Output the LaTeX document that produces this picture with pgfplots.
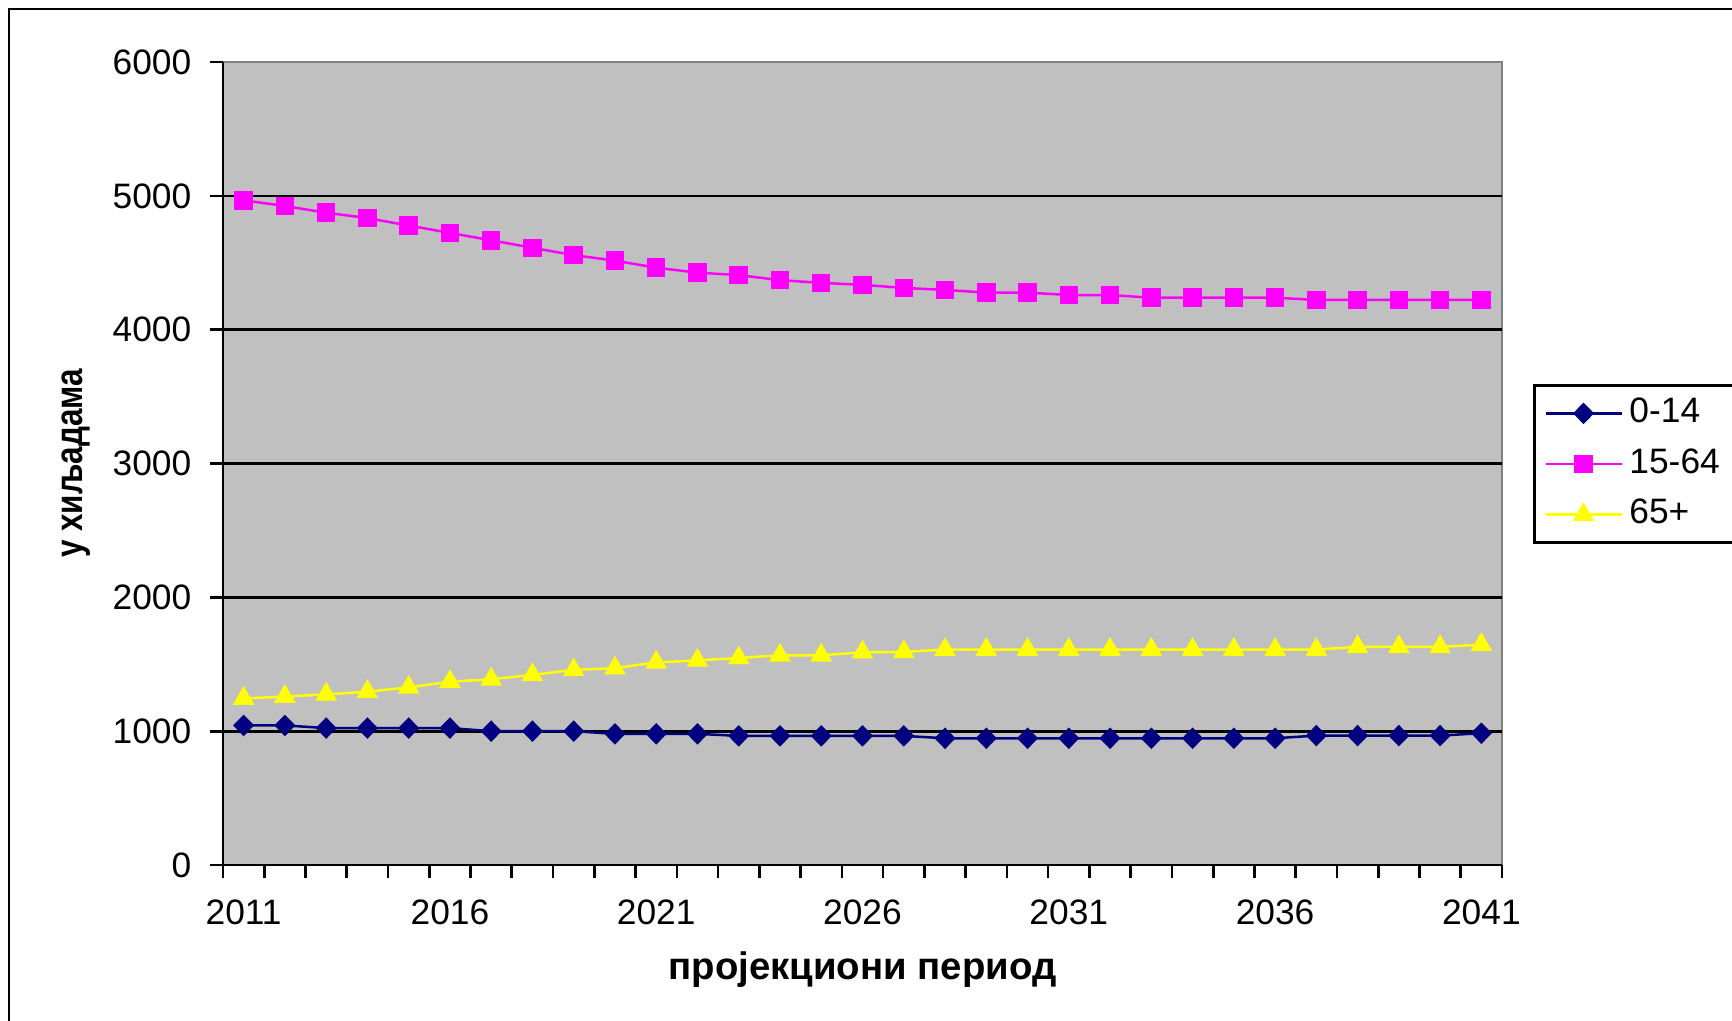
\documentclass[border=0pt]{standalone}
\usepackage{fontspec}
\setmainfont{Liberation Sans}
\usepackage{pgfplots}
\pgfplotsset{compat=1.18}
\definecolor{plotbg}{RGB}{192,192,192}
\definecolor{rimgray}{RGB}{128,128,128}
\definecolor{navy}{RGB}{0,0,128}
\definecolor{pinky}{RGB}{255,0,255}
\definecolor{yell}{RGB}{255,255,0}
\begin{document}
\begin{tikzpicture}
\path[use as bounding box] (-66.9pt,-46.5pt) rectangle (452.7pt,259.5pt);
\draw[line width=0.7pt] (-64.2pt,-60pt) -- (-64.2pt,256.8pt) -- (470pt,256.8pt);
\begin{axis}[
  at={(0,0)}, anchor=south west,
  scale only axis, width=383.7pt, height=240.9pt,
  xmin=-0.5, xmax=30.5, ymin=0, ymax=6000,
  axis background/.style={fill=plotbg, draw=rimgray, line width=0.6pt},
  axis x line*=bottom, axis y line*=left,
  axis line style={-, black, line width=0.8pt},
  xtick={0,5,...,30},
  xticklabels={2011,2016,2021,2026,2031,2036,2041},
  minor xtick={-0.5,0.5,...,30.5},
  major x tick style={draw=none},
  ytick={0,1000,...,6000},
  extra y ticks={1000,2000,3000,4000,5000},
  extra y tick labels={},
  extra y tick style={grid=major, major tick length=0pt},
  major grid style={black, line width=0.8pt},
  tick align=outside,
  tick style={black, line width=0.8pt},
  major tick length=4pt, minor tick length=4pt,
  /pgf/number format/assume math mode=true,
  /pgf/number format/1000 sep={},
  ticklabel style={font=\fontsize{10.6pt}{12pt}\selectfont},
  xticklabel style={yshift=-3pt},
  yticklabel style={xshift=-2pt},
  xlabel={\bfseries пројекциони период},
  ylabel={\scalebox{0.82}[1]{\bfseries у хиљадама}},
  label style={font=\fontsize{11.5pt}{13pt}\selectfont},
  xlabel style={at={(axis description cs:0.5,-0.1308)}, anchor=center},
  ylabel style={at={(axis description cs:-0.1146,0.5)}, anchor=center},
  legend style={at={(axis description cs:1.0242,0.599)}, anchor=north west,
    draw=black, line width=0.8pt, fill=white, inner xsep=3pt, inner ysep=1.5pt,
    font=\fontsize{10.6pt}{12pt}\selectfont, row sep=1.4pt,
    nodes={inner sep=2pt, text height=7.6pt, text depth=2.2pt}},
  legend cell align=left,
  legend image code/.code={%
    \draw[mark repeat=2, mark phase=2] plot coordinates {(0pt,0pt) (11.4pt,0pt) (22.8pt,0pt)};},
  clip=false,
]
\addplot[navy, line width=0.75pt, mark=diamond*, mark size=2.7pt,
  mark options={xscale=1.3, solid, fill=navy, draw=navy}] coordinates {
(0,1043)(1,1043)(2,1023)(3,1023)(4,1023)(5,1023)(6,1000)(7,1000)(8,1000)(9,980)
(10,980)(11,980)(12,965)(13,965)(14,965)(15,965)(16,965)(17,947)(18,947)(19,947)
(20,947)(21,947)(22,947)(23,947)(24,947)(25,947)(26,967)(27,967)(28,967)(29,967)(30,985)};
\addlegendentry{0-14}
\addplot[pinky, line width=0.75pt, mark=square*, mark size=2.4pt,
  mark options={solid, fill=pinky, draw=pinky}] coordinates {
(0,4967)(1,4924)(2,4874)(3,4834)(4,4778)(5,4723)(6,4668)(7,4612)(8,4557)(9,4516)
(10,4463)(11,4426)(12,4408)(13,4370)(14,4350)(15,4335)(16,4312)(17,4297)(18,4277)(19,4277)
(20,4259)(21,4259)(22,4239)(23,4239)(24,4239)(25,4239)(26,4222)(27,4222)(28,4222)(29,4222)(30,4222)};
\addlegendentry{15-64}
\addplot[yell, line width=0.75pt, mark=triangle*, mark size=3pt,
  mark options={solid, fill=yell, draw=yell}] coordinates {
(0,1244)(1,1259)(2,1275)(3,1295)(4,1327)(5,1370)(6,1388)(7,1421)(8,1458)(9,1471)
(10,1514)(11,1529)(12,1547)(13,1567)(14,1567)(15,1590)(16,1592)(17,1610)(18,1610)(19,1610)
(20,1610)(21,1610)(22,1610)(23,1610)(24,1610)(25,1610)(26,1610)(27,1630)(28,1630)(29,1630)(30,1647)};
\addlegendentry{65+}
\end{axis}
\end{tikzpicture}
\end{document}
